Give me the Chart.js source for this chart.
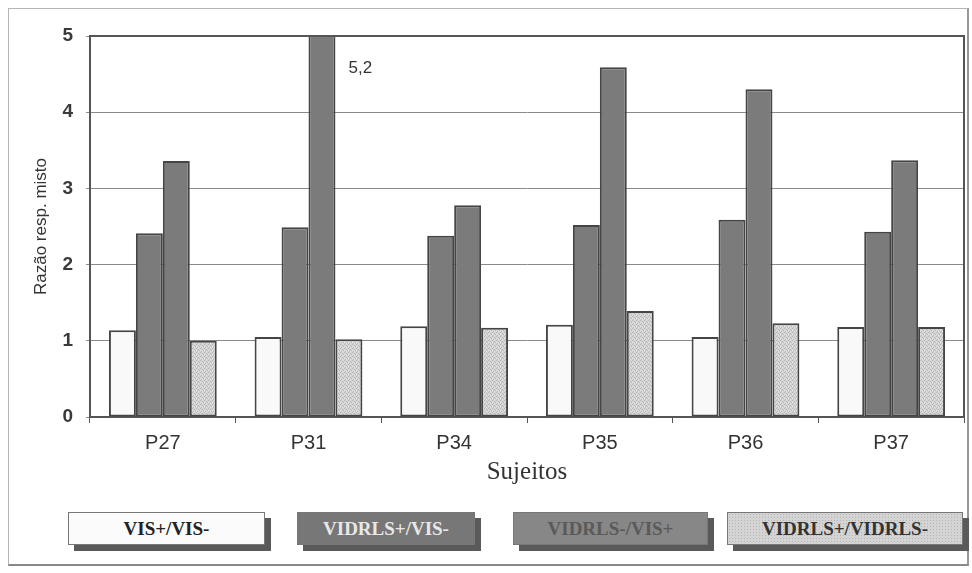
<!DOCTYPE html>
<html>
<head>
<meta charset="utf-8">
<script src="https://cdn.jsdelivr.net/npm/chart.js@4"></script>
<style>
  html, body { margin: 0; padding: 0; background: #fff; }
  #wrap { position: relative; width: 972px; height: 573px; overflow: hidden; }
  #frame { position: absolute; left: 8px; top: 8px; width: 958px; height: 555px;
           border: 1px solid #b5b5b5; border-bottom: 2px solid #888; border-right: 2px solid #999; }
  #chart { position: absolute; left: 0; top: 0; }
  #legend { position: absolute; left: 0; top: 512px; width: 972px; height: 50px; }
  .item { position: absolute; top: 0; height: 33px; box-sizing: border-box;
          border: 1px solid #777; box-shadow: 6px 6px 0 #5a5a5a;
          font-family: "Liberation Serif", "DejaVu Serif", serif; font-size: 19px; font-weight: bold;
          line-height: 31px; text-align: center; }
</style>
</head>
<body>
<div id="wrap">
  <div id="frame"></div>
  <canvas id="chart" width="972" height="500"></canvas>
  <div id="legend"></div>
</div>
<script>
// ============================
// DATA
// ============================
const subjects = ["P27", "P31", "P34", "P35", "P36", "P37"];
const seriesNames = ["VIS+/VIS-", "VIDRLS+/VIS-", "VIDRLS-/VIS+", "VIDRLS+/VIDRLS-"];
const visRatio        = [1.14, 1.05, 1.19, 1.21, 1.05, 1.18];
const vidrlsVisMinus  = [2.41, 2.49, 2.38, 2.52, 2.59, 2.43];
const vidrlsMinusVis  = [3.36, 5.2, 2.78, 4.59, 4.30, 3.37];
const vidrlsRatio     = [1.00, 1.02, 1.17, 1.39, 1.23, 1.18];
const yTicks = [0, 1, 2, 3, 4, 5];

// stippled fill for the light series
function stipple(){
  const c = document.createElement("canvas");
  c.width = 4; c.height = 4;
  const g = c.getContext("2d");
  g.fillStyle = "#d4d4d4"; g.fillRect(0, 0, 4, 4);
  g.fillStyle = "#b8b8b8";
  g.fillRect(0, 0, 1, 1); g.fillRect(2, 1, 1, 1); g.fillRect(1, 3, 1, 1); g.fillRect(3, 2, 1, 1);
  g.fillStyle = "#e6e6e6";
  g.fillRect(2, 3, 1, 1); g.fillRect(0, 2, 1, 1);
  return document.getElementById("chart").getContext("2d").createPattern(c, "repeat");
}
const lightFill = stipple();

const fills = ["#f9f9f9", "#7b7b7b", "#7b7b7b", lightFill];
const legendStyle = [
  { left: 68,  width: 197, bg: "#fbfbfb", color: "#222" },
  { left: 297, width: 178, bg: "#777",    color: "#e8e8e8" },
  { left: 513, width: 195, bg: "#878787", color: "#5a5a5a" },
  { left: 727, width: 236, bg: null,      color: "#333" }
];

// ============================
// LABEL FOR CLIPPED BAR
// ============================
const clippedLabel = {
  id: "clippedLabel",
  afterDatasetsDraw(chart){
    const meta = chart.getDatasetMeta(2);
    const ctx = chart.ctx;
    const ymax = chart.scales.y.max;
    meta.data.forEach((bar, i) => {
      const v = vidrlsMinusVis[i];
      if (v <= ymax) return;
      ctx.save();
      ctx.font = "17px 'Liberation Sans', Arial, sans-serif";
      ctx.fillStyle = "#333";
      ctx.textBaseline = "middle";
      ctx.fillText(String(v).replace(".", ","), bar.x + bar.width / 2 + 13, chart.chartArea.top + 32);
      ctx.restore();
    });
  }
};

// ============================
// CHART
// ============================
const allSeries = [visRatio, vidrlsVisMinus, vidrlsMinusVis, vidrlsRatio];

const chart = new Chart(document.getElementById("chart"), {
  type: "bar",
  data: {
    labels: subjects,
    datasets: allSeries.map((d, i) => ({
      label: seriesNames[i],
      data: d,
      backgroundColor: fills[i],
      borderColor: "#454545",
      borderWidth: 2,
      borderSkipped: false,
      categoryPercentage: 0.74,
      barPercentage: 1.0
    }))
  },
  options: {
    responsive: false,
    animation: false,
    devicePixelRatio: 1,
    layout: { padding: { left: 31, right: 8, top: 36, bottom: 13 } },
    plugins: { legend: { display: false }, tooltip: { enabled: false } },
    scales: {
      x: {
        grid: { offset: true, drawOnChartArea: false, color: "#555", tickLength: 6, lineWidth: 1 },
        border: { color: "#555", width: 2 },
        ticks: { color: "#333", padding: 8, font: { family: "'Liberation Sans', Arial, sans-serif", size: 20 } },
        title: { display: true, text: "Sujeitos", color: "#333", padding: { top: 0, bottom: 0 },
                 font: { family: "'Liberation Serif', 'DejaVu Serif', serif", size: 25 } },
        afterFit(s){ s.height = 70; }
      },
      y: {
        min: 0, max: 5,
        afterBuildTicks(s){ s.ticks = yTicks.map(v => ({ value: v })); },
        grid: { color: "#8a8a8a", lineWidth: 1, tickLength: 4 },
        border: { color: "#555", width: 2 },
        ticks: { color: "#3a3a3a", padding: 13, font: { family: "'Liberation Sans', Arial, sans-serif", size: 19, weight: "bold" } },
        title: { display: true, text: "Razão resp. misto", color: "#333", padding: { top: 0, bottom: 0 },
                 font: { family: "'Liberation Sans', Arial, sans-serif", size: 17 } },
        afterFit(s){ s.width = 59; }
      }
    }
  },
  plugins: [clippedLabel, {
    id: "plotBorder",
    afterDraw(c){
      const { left, top, right, bottom } = c.chartArea;
      const ctx = c.ctx;
      ctx.save();
      ctx.strokeStyle = "#555";
      ctx.lineWidth = 2;
      ctx.beginPath();
      ctx.moveTo(left, top); ctx.lineTo(right, top); ctx.lineTo(right, bottom);
      ctx.stroke();
      ctx.restore();
    }
  }]
});

// ============================
// LEGEND (boxes with shadow)
// ============================
const legendEl = document.getElementById("legend");
chart.data.datasets.forEach((ds, i) => {
  const st = legendStyle[i];
  const div = document.createElement("div");
  div.className = "item";
  div.textContent = ds.label;
  div.style.left = st.left + "px";
  div.style.width = st.width + "px";
  div.style.color = st.color;
  if (st.bg) div.style.background = st.bg;
  else div.style.background = "#d4d4d4 radial-gradient(#b4b4b4 0.6px, transparent 0.8px) 0 0 / 3px 3px";
  legendEl.appendChild(div);
});
</script>
</body>
</html>
